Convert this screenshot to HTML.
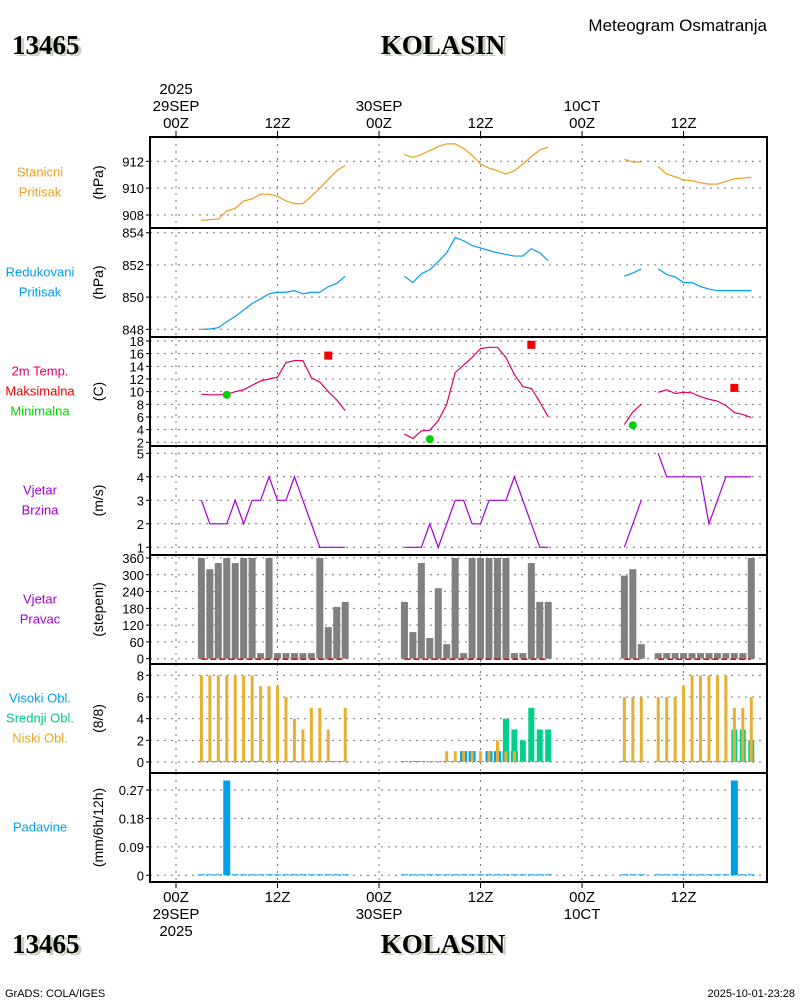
<!DOCTYPE html>
<html><head><meta charset="utf-8"><style>
body{margin:0;background:#fff;width:800px;height:1000px;overflow:hidden}
svg{display:block}
text{font-family:"Liberation Sans",sans-serif}
.ttl{font-family:"Liberation Serif",serif;font-weight:bold;font-size:27px}
</style></head><body>
<svg id="chart" width="800" height="1000" xmlns="http://www.w3.org/2000/svg">
<g>
<text class="ttl" x="15" y="56" fill="#c8d4c0">13465</text>
<text class="ttl" x="12" y="54" fill="#000">13465</text>
<text class="ttl" x="446" y="56" text-anchor="middle" fill="#c8d4c0">KOLASIN</text>
<text class="ttl" x="443" y="54" text-anchor="middle" fill="#000">KOLASIN</text>
<text x="767" y="31" text-anchor="end" font-size="17" fill="#000">Meteogram Osmatranja</text>
</g>
<g>
<text class="ttl" x="15" y="955" fill="#c8d4c0">13465</text>
<text class="ttl" x="12" y="953" fill="#000">13465</text>
<text class="ttl" x="446" y="955" text-anchor="middle" fill="#c8d4c0">KOLASIN</text>
<text class="ttl" x="443" y="953" text-anchor="middle" fill="#000">KOLASIN</text>
<text x="5" y="997" font-size="11" fill="#000">GrADS: COLA/IGES</text>
<text x="795" y="997" text-anchor="end" font-size="11" fill="#000">2025-10-01-23:28</text>
</g>
<g id="plot"></g>
</svg>
<script>
// ---- data (hour offsets from 29SEP 00Z) ----
const hours = [3,4,5,6,7,8,9,10,11,12,13,14,15,16,17,18,19,20, 27,28,29,30,31,32,33,34,35,36,37,38,39,40,41,42,43,44, 53,54,55,56,57,58,59,60,61,62,63,64,65,66,67,68];
const stationP = [907.6,907.65,907.7,908.3,908.5,909.05,909.2,909.55,909.55,909.4,909.05,908.85,908.85,909.4,910,910.65,911.3,911.7, 912.5,912.3,912.5,912.8,913.1,913.3,913.3,912.95,912.45,911.8,911.5,911.3,911.05,911.3,911.8,912.35,912.85,913.05, 912.15,911.95,911.95,null,911.6,911.05,910.85,910.6,910.55,910.4,910.3,910.3,910.5,910.7,910.75,910.8];
const reducedP = [848,848.02,848.1,848.47,848.8,849.2,849.6,849.9,850.2,850.3,850.3,850.4,850.2,850.3,850.3,850.65,850.85,851.3, 851.3,850.9,851.45,851.7,852.2,852.75,853.7,853.5,853.2,853.05,852.9,852.75,852.65,852.55,852.55,853.0,852.75,852.25, 851.3,851.5,851.75,null,851.75,851.4,851.25,850.9,850.9,850.65,850.5,850.4,850.4,850.4,850.4,850.4];
const temp2m = [9.6,9.5,9.5,9.6,10,10.3,11,11.7,12,12.3,14.6,14.9,14.9,12.2,11.5,10,8.7,7, 3.3,2.6,3.8,3.9,5.4,8,13,14.2,15.4,16.8,17,17,15.4,12.7,10.8,10.5,8.4,6, 4.8,6.8,8,null,9.9,10.3,9.7,9.9,9.8,9.2,8.8,8.5,7.8,6.7,6.4,5.9];
const windSpd = [3,2,2,2,3,2,3,3,4,3,3,4,3,2,1,1,1,1, 1,1,1,2,1,2,3,3,2,2,3,3,3,4,3,2,1,1, 1,2,3,null,5,4,4,4,4,4,2,3,4,4,4,4];
const windDir = [360,320,342,360,342,360,360,20,360,20,20,20,20,20,360,113,185,203, 203,95,342,74,252,52,360,20,360,360,360,360,360,20,20,342,203,203, 297,320,52,null,20,20,20,20,20,20,20,20,20,20,20,360];
const lowCloud = [8,8,8,8,8,8,8,7,7,7,6,4,3,5,5,3,0,5, 0,0,0,0,0,1,1,1,1,1,1,2,1,1,0,0,0,0, 6,6,6,null,6,6,6,7,8,8,8,8,8,5,5,6];
const midCloud = [0,0,0,0,0,0,0,0,0,0,0,0,0,0,0,0,0,0, 0,0,0,0,0,0,0,0,0,0,0,0,4,3,2,5,3,3, 0,0,0,null,0,0,0,0,0,0,0,0,0,3,3,2];
const highCloud = [0,0,0,0,0,0,0,0,0,0,0,0,0,0,0,0,0,0, 0,0,0,0,0,0,0,1,1,0,1,1,1,1,0,0,0,0, 0,0,0,null,0,0,0,0,0,0,0,0,0,0,0,0];
const maxT_hours = [18,42,66];
const maxT_vals = [15.7,17.4,10.6];
const minT_hours = [6,30,54];
const minT_vals = [9.5,2.5,4.7];
const precip_hours = [3,4,5,6,7,8,9,10,11,12,13,14,15,16,17,18,19,20, 27,28,29,30,31,32,33,34,35,36,37,38,39,40,41,42,43,44, 53,54,55,57,58,59,60,61,62,63,64,65,66,67,68];
const precip_vals = [0,0,0,0.30,0,0,0,0,0,0,0,0,0,0,0,0,0,0, 0,0,0,0,0,0,0,0,0,0,0,0,0,0,0,0,0,0, 0,0,0,0,0,0,0,0,0,0,0,0,0.30,0,0];
const timeTickHours = [0,12,24,36,48,60];
const timeTopLabels = [["2025","29SEP","00Z"],["","","12Z"],["","30SEP","00Z"],["","","12Z"],["","10CT","00Z"],["","","12Z"]];
const timeBotLabels = [["00Z","29SEP","2025"],["12Z","",""],["00Z","30SEP",""],["12Z","",""],["00Z","10CT",""],["12Z","",""]];

const NS="http://www.w3.org/2000/svg";
const plot=document.getElementById('plot');
function el(tag,attrs,parent){const e=document.createElementNS(NS,tag);for(const k in attrs)e.setAttribute(k,attrs[k]);(parent||plot).appendChild(e);return e;}
const X0=150,X1=767;
const xs=h=>176+h*8.46;
function lin(v0,p0,v1,p1){return v=>p0+(v-v0)*(p1-p0)/(v1-v0);}

const panels=[
 {name:'station-pressure',top:137,bot:228,y:lin(908,215,912,161.3),ticks:[908,910,912],fmt:v=>v,title:'(hPa)',labels:[['Stanicni','#e8a020'],['Pritisak','#e8a020']]},
 {name:'reduced-pressure',top:228,bot:337,y:lin(848,329.3,854,232.7),ticks:[848,850,852,854],fmt:v=>v,title:'(hPa)',labels:[['Redukovani','#00a0e8'],['Pritisak','#00a0e8']]},
 {name:'temperature',top:337,bot:446,y:lin(2,442.3,18,341),ticks:[2,4,6,8,10,12,14,16,18],fmt:v=>v,title:'(C)',labels:[['2m Temp.','#e0006a'],['Maksimalna','#f00000'],['Minimalna','#00d000']]},
 {name:'wind-speed',top:446,bot:555,y:lin(1,547.3,5,453.3),ticks:[1,2,3,4,5],fmt:v=>v,title:'(m/s)',labels:[['Vjetar','#a000d0'],['Brzina','#a000d0']]},
 {name:'wind-direction',top:555,bot:664,y:lin(0,658.7,360,558),ticks:[0,60,120,180,240,300,360],fmt:v=>v,title:'(stepeni)',labels:[['Vjetar','#a000d0'],['Pravac','#a000d0']]},
 {name:'cloud-cover',top:664,bot:773,y:lin(0,762,8,675.3),ticks:[0,2,4,6,8],fmt:v=>v,title:'(8/8)',labels:[['Visoki Obl.','#00a0e8'],['Srednji Obl.','#00cc88'],['Niski Obl.','#e8a820']]},
 {name:'precipitation',top:773,bot:882,y:lin(0,875.3,0.27,790),ticks:[0,0.09,0.18,0.27],fmt:v=>v===0?'0':v.toFixed(2),title:'(mm/6h/12h)',labels:[['Padavine','#00a0e8']]}
];

panels.forEach((p,i)=>{
 const g=el('g',{});
 
 
 p.g=g;
 timeTickHours.forEach(h=>{const l=el('line',{x1:xs(h),x2:xs(h),y1:p.top,y2:p.bot,stroke:'#777','stroke-width':1,'stroke-dasharray':'2,5'},g);
  
  });
 p.ticks.forEach(t=>{const y=p.y(t);
  const l=el('line',{x1:X0,x2:X1,y1:y,y2:y,stroke:'#777','stroke-width':1,'stroke-dasharray':'2,5'},g);
  
  
  const tk=el('line',{x1:X0-4,x2:X0,y1:y,y2:y,stroke:'#000'},g);
  
  
  const tx=el('text',{x:X0-6,y:y+5,'text-anchor':'end','font-size':13,fill:'#000'},g);tx.textContent=p.fmt(t);
  
  });
 const cy=(p.top+p.bot)/2;
 const at=el('text',{x:0,y:0,'text-anchor':'middle','font-size':14,fill:'#000',transform:`translate(${X0-47},${cy}) rotate(-90)`},g);at.textContent=p.title;
 
 
 const n=p.labels.length;
 p.labels.forEach((lb,j)=>{const t=el('text',{x:40,y:cy-(n-1)*10+j*20+4,'text-anchor':'middle','font-size':13,fill:lb[1]},g);t.textContent=lb[0];
  
  });
});

function drawLine(p,vals,color,name){
 let seg=[];const segs=[];let prev=null;
 hours.forEach((h,i)=>{
  if(vals[i]==null||(prev!=null&&h-prev>1)){if(seg.length)segs.push(seg);seg=[];}
  if(vals[i]!=null){seg.push([xs(h),p.y(vals[i])]);prev=h;}else prev=null;
 });
 if(seg.length)segs.push(seg);
 segs.forEach(s=>{const pl=el('polyline',{points:s.map(q=>q.join(',')).join(' '),fill:'none',stroke:color,'stroke-width':1.2},p.g);
  
  });
}
function drawBars(p,hs,vals,color,w,name){
 hs.forEach((h,i)=>{const v=vals[i];if(v==null)return;const y=p.y(v),b=p.y(0);
  const r=el('rect',{x:xs(h)-w/2,y:Math.min(y,b-1),width:w,height:Math.max(b-y,1),fill:color},p.g);
  
  });
}
drawLine(panels[0],stationP,'#e8a020','station-pressure-line');
drawLine(panels[1],reducedP,'#00a0e8','reduced-pressure-line');
drawLine(panels[2],temp2m,'#e0006a','temperature-line');
maxT_hours.forEach((h,i)=>{const r=el('rect',{x:xs(h)-4,y:panels[2].y(maxT_vals[i])-4,width:8,height:8,fill:'#f00000'},panels[2].g);
 
 });
minT_hours.forEach((h,i)=>{const c=el('circle',{cx:xs(h),cy:panels[2].y(minT_vals[i]),r:4,fill:'#00d000'},panels[2].g);
 
 });
drawLine(panels[3],windSpd,'#a000d0','wind-speed-line');
drawBars(panels[4],hours,windDir,'#808080',7,'wind-direction-bar');
[[3,20],[27,44],[53,55],[57,68]].forEach(r=>{const l=el('line',{x1:xs(r[0]),x2:xs(r[1]),y1:panels[4].y(0)+0.5,y2:panels[4].y(0)+0.5,stroke:'#e01010','stroke-width':1.5,'stroke-dasharray':'6,3'},panels[4].g);
 
 });
drawBars(panels[5],hours,highCloud,'#00a0e8',7,'high-cloud-bar');
drawBars(panels[5],hours,midCloud,'#00d08c',6,'mid-cloud-bar');
drawBars(panels[5],hours,lowCloud,'#e8b030',3,'low-cloud-bar');
drawBars(panels[6],precip_hours,precip_vals,'#00a0e8',7,'precipitation-bar');

panels.forEach(p=>{const r=el('rect',{x:X0,y:p.top,width:X1-X0,height:p.bot-p.top,fill:'none',stroke:'#000','stroke-width':2});
 
 });
timeTickHours.forEach((h,i)=>{const x=xs(h);
 const t1=el('line',{x1:x,x2:x,y1:131,y2:137,stroke:'#000'});
 
 
 const t2=el('line',{x1:x,x2:x,y1:882,y2:888,stroke:'#000'});
 
 
 timeTopLabels[i].forEach((s,j)=>{if(!s)return;const t=el('text',{x:x,y:94+j*17,'text-anchor':'middle','font-size':15,fill:'#000'});t.textContent=s;
  
  });
 timeBotLabels[i].forEach((s,j)=>{if(!s)return;const t=el('text',{x:x,y:902+j*17,'text-anchor':'middle','font-size':15,fill:'#000'});t.textContent=s;
  
  });
});
</script>
</body></html>
